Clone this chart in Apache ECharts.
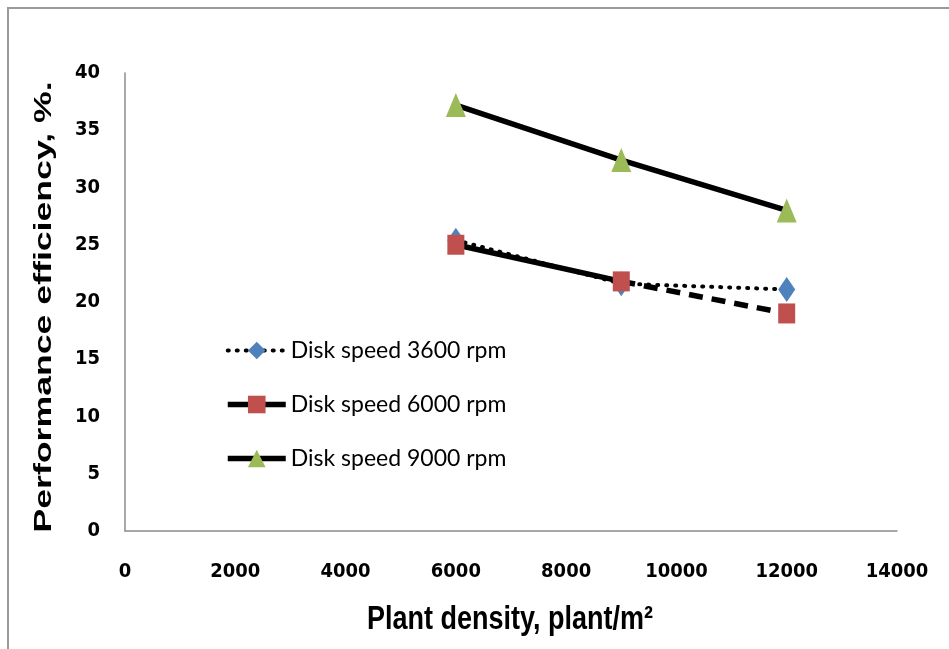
<!DOCTYPE html>
<html>
<head>
<meta charset="utf-8">
<script src="https://cdn.jsdelivr.net/npm/echarts@6/dist/echarts.min.js"></script>
<style>
  html, body { margin: 0; padding: 0; background: #fff; }
  #chart { width: 949px; height: 649px; }
</style>
</head>
<body>
<div id="chart"></div>
<script>
// Plant density (plant/m2) at which each disk speed was tested
var densities = [6000, 9000, 12000];
// Performance efficiency (%) per disk speed
var eff3600 = [25.4, 21.6, 21.1];
var eff6000 = [25.0, 21.8, 19.0];
var eff9000 = [37.2, 32.4, 28.0];

var seriesNames = ['Disk speed 3600 rpm', 'Disk speed 6000 rpm', 'Disk speed 9000 rpm'];
var xTicks = [0, 2000, 4000, 6000, 8000, 10000, 12000, 14000];
var yTicks = [0, 5, 10, 15, 20, 25, 30, 35, 40];

function pairs(vals) {
  return densities.map(function (d, i) { return [d, vals[i]]; });
}

var p6000 = pairs(eff6000);
// solid run up to the middle point, then a gap; the last leg is dashed
var solid6000 = [p6000[0], p6000[1], [p6000[2][0], '-'], p6000[2]];
var dashed6000 = [p6000[1], p6000[2]];

var tickFont = "'Liberation Sans Narrow', 'DejaVu Sans Condensed', 'Liberation Sans', sans-serif";

var chart = echarts.init(document.getElementById('chart'), null, { renderer: 'canvas' });
chart.setOption({
  backgroundColor: '#fff',
  animation: false,
  grid: { left: 125, right: 52, top: 73, bottom: 118, containLabel: false },
  xAxis: {
    type: 'value',
    min: xTicks[0],
    max: xTicks[xTicks.length - 1],
    interval: 2000,
    axisLine: { show: true, lineStyle: { color: '#8c8c8c', width: 1.5 } },
    axisTick: { show: false },
    splitLine: { show: false },
    axisLabel: {
      margin: 31,
      formatter: function (v) { return String(v); },
      fontFamily: tickFont,
      fontWeight: 'bold',
      fontSize: 20,
      color: '#000'
    }
  },
  yAxis: {
    type: 'value',
    min: yTicks[0],
    max: yTicks[yTicks.length - 1],
    interval: 5,
    axisLine: { show: true, lineStyle: { color: '#8c8c8c', width: 1.5 } },
    axisTick: { show: false },
    splitLine: { show: false },
    axisLabel: {
      margin: 25,
      formatter: function (v) { return String(v); },
      fontFamily: tickFont,
      fontWeight: 'bold',
      fontSize: 20,
      color: '#000'
    }
  },
  legend: {
    orient: 'vertical',
    left: 220,
    top: 334,
    itemWidth: 58,
    itemHeight: 22,
    itemGap: 31,
    textStyle: { fontFamily: 'Lato', fontSize: 23, color: '#000', lineHeight: 22 },
    data: [
      { name: seriesNames[0], lineStyle: { width: 4, type: [1, 8], cap: 'round', color: '#000' } },
      { name: seriesNames[1], lineStyle: { width: 5.5, type: 'solid', color: '#000' } },
      { name: seriesNames[2], lineStyle: { width: 5.5, type: 'solid', color: '#000' } }
    ]
  },
  graphic: [
    {
      type: 'rect',
      shape: { x: 8, y: 8, width: 980, height: 680 },
      style: { fill: 'none', stroke: '#9a9a9a', lineWidth: 2 },
      silent: true
    },
    {
      type: 'text',
      x: 45, y: 307,
      rotation: Math.PI / 2,
      scaleX: 1.55,
      style: {
        text: 'Performance efficiency, %.',
        fontFamily: 'Liberation Sans',
        fontWeight: 'bold',
        fontSize: 23,
        fill: '#000',
        textAlign: 'center',
        textVerticalAlign: 'middle'
      }
    },
    {
      type: 'text',
      x: 510, y: 620,
      scaleX: 1.08,
      scaleY: 1.3,
      style: {
        text: 'Plant density, plant/m²',
        fontFamily: 'Liberation Sans',
        fontWeight: 'bold',
        fontSize: 25,
        fill: '#000',
        textAlign: 'center',
        textVerticalAlign: 'middle'
      }
    }
  ],
  series: [
    {
      name: seriesNames[0],
      type: 'line',
      z: 2,
      data: pairs(eff3600),
      symbol: 'diamond',
      symbolSize: [17, 25],
      itemStyle: { color: '#4F81BD' },
      lineStyle: { color: '#000', width: 4, type: [1, 8], cap: 'round' }
    },
    {
      name: seriesNames[1],
      type: 'line',
      z: 3,
      data: solid6000,
      connectNulls: false,
      symbol: 'rect',
      symbolSize: [17, 20],
      itemStyle: { color: '#C0504D' },
      lineStyle: { color: '#000', width: 5.5, type: 'solid' }
    },
    {
      name: 'last leg',
      type: 'line',
      z: 1,
      data: dashed6000,
      symbol: 'none',
      lineStyle: { color: '#000', width: 5.5, type: [14, 9] },
      silent: true
    },
    {
      name: seriesNames[2],
      type: 'line',
      z: 4,
      data: pairs(eff9000),
      symbol: 'triangle',
      symbolSize: [20, 24],
      itemStyle: { color: '#9BBB59' },
      lineStyle: { color: '#000', width: 5.5 }
    }
  ]
});
</script>
</body>
</html>
